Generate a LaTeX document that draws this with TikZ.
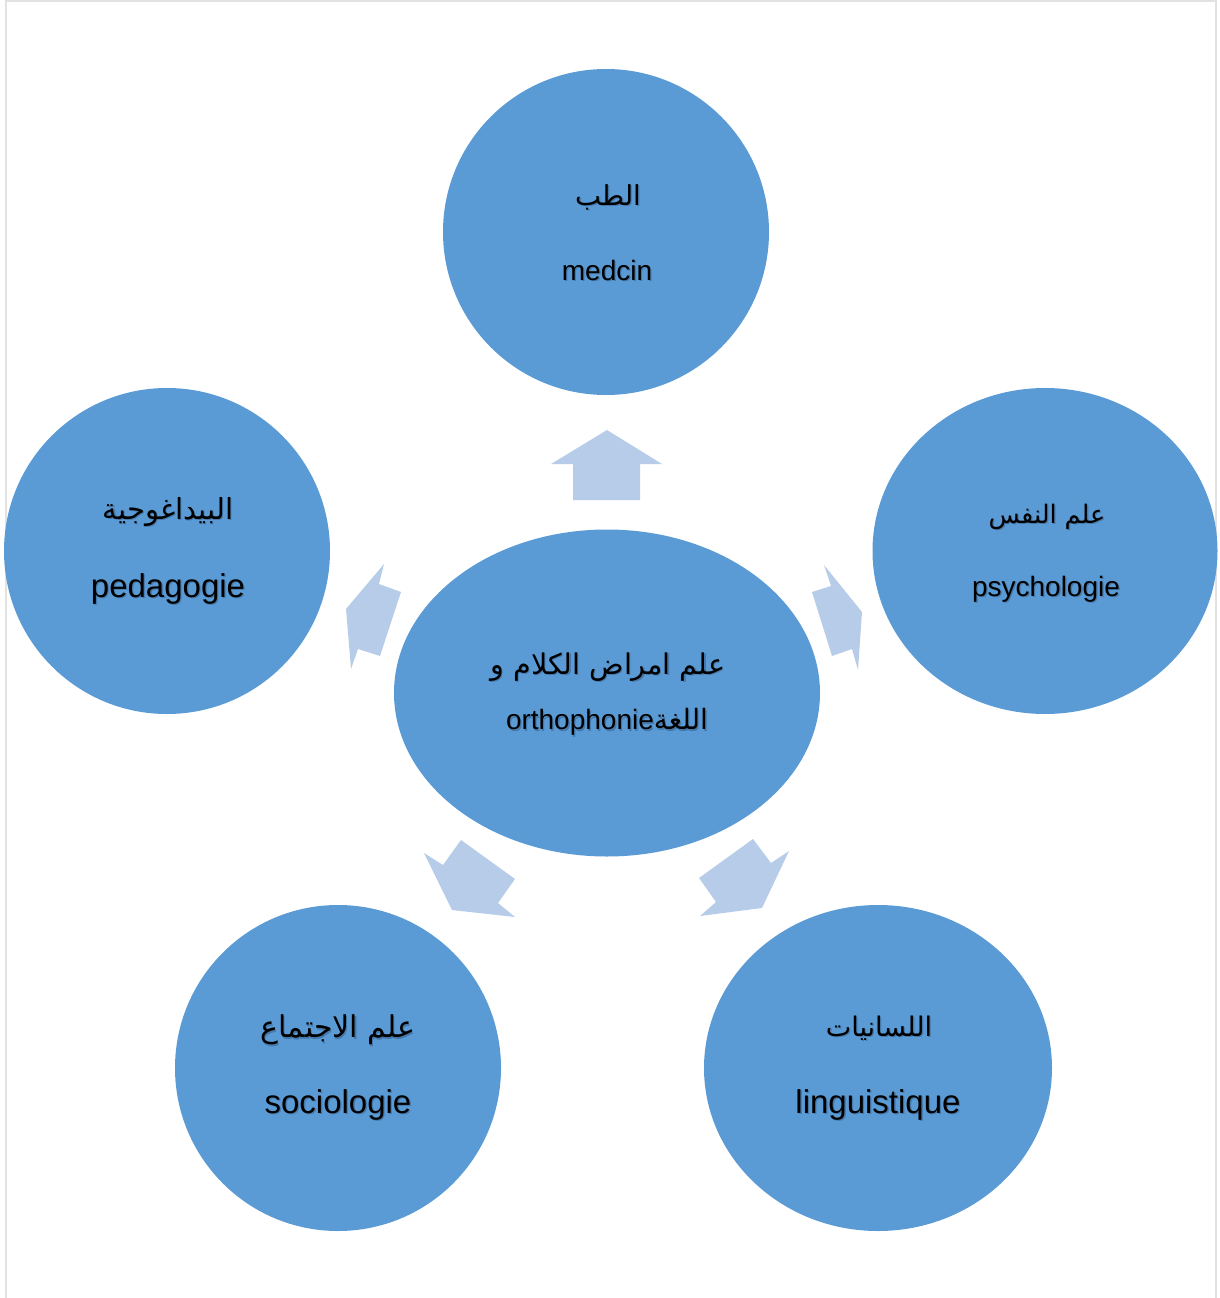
\documentclass[tikz,border=0pt]{standalone}
\usepackage{fontspec}
\setmainfont{Liberation Sans}
\newfontfamily\arabicfont[Script=Arabic]{DejaVu Sans}
\TeXXeTstate=1
\usetikzlibrary{shapes.geometric,calc}
\definecolor{discblue}{RGB}{91,155,213}
\definecolor{arrowblue}{RGB}{183,204,232}
\definecolor{framegray}{RGB}{226,226,226}
\definecolor{shadowblue}{RGB}{45,80,120}
\tikzset{
  disc/.style={ellipse, fill=discblue, draw=none, inner sep=0pt},
  pointer/.style={fill=arrowblue, draw=none},
  txt/.style={inner sep=0pt, text=black},
  txtshadow/.style={inner sep=0pt, text=shadowblue, opacity=0.45},
}
% label with a soft drop shadow: name, position, font size, text
\newcommand\lbl[4]{%
  \node[txtshadow] at ($(#2)+(1.3,1.3)$) {\fontsize{#3}{#3}\selectfont #4};
  \node[txt] (#1) at (#2) {\fontsize{#3}{#3}\selectfont #4};}
\newcommand\ar[1]{{\arabicfont\beginR #1\endR}}
\begin{document}
\begin{tikzpicture}[x=1pt,y=-1pt]
  \useasboundingbox (0,0) rectangle (1219,1298);
  % page frame
  \draw[framegray, line width=2pt] (6,1298) -- (6,1) -- (1216,1) -- (1216,1298);

  % discs
  \node[disc, minimum width=326pt, minimum height=326pt] (med) at (606,232) {};
  \node[disc, minimum width=326pt, minimum height=326pt] (ped) at (167,551) {};
  \node[disc, minimum width=345pt, minimum height=326pt] (psy) at (1045,551) {};
  \node[disc, minimum width=426pt, minimum height=327pt] (ortho) at (607,693) {};
  \node[disc, minimum width=326pt, minimum height=326pt] (soc) at (338,1068) {};
  \node[disc, minimum width=348pt, minimum height=326pt] (lin) at (878,1068) {};

  % block arrows pointing outward from the centre
  \fill[pointer] (607,430) -- (662,464) -- (640,464) -- (640,500) -- (573,500) -- (573,464) -- (551,464) -- cycle;
  \fill[pointer] (346,609) -- (384,564) -- (379,584) -- (401,592) -- (380,656) -- (358,649) -- (351,669) -- cycle;
  \fill[pointer] (862,612) -- (858,670) -- (852,649) -- (832,656) -- (812,592) -- (831,586) -- (824,565) -- cycle;
  \fill[pointer] (452,910) -- (424,853) -- (443,865) -- (461,840) -- (515,879) -- (498,903) -- (515,917) -- cycle;
  \fill[pointer] (762,908) -- (700,916) -- (716,902) -- (699,878) -- (753,839) -- (771,863) -- (789,851) -- cycle;

  % labels
  \lbl{medAr}{608,197}{27.5}{\ar{الطب}}
  \lbl{medFr}{607,270}{28}{medcin}
  \lbl{pedAr}{168,512}{29}{\ar{البيداغوجية}}
  \lbl{pedFr}{168,589}{33}{pedagogie}
  \lbl{psyAr}{1047,517}{25.5}{\ar{علم النفس}}
  \lbl{psyFr}{1046,589}{28}{psychologie}
  \lbl{orthoAr}{608,667}{28.5}{\ar{علم امراض الكلام و}}
  \lbl{orthoFr}{607,722}{28}{orthophonie\ar{اللغة}}
  \lbl{socAr}{338,1030}{30}{\ar{علم الاجتماع}}
  \lbl{socFr}{338,1105}{33}{sociologie}
  \lbl{linAr}{879,1028}{27}{\ar{اللسانيات}}
  \lbl{linFr}{878,1105}{33}{linguistique}
\end{tikzpicture}
\end{document}
